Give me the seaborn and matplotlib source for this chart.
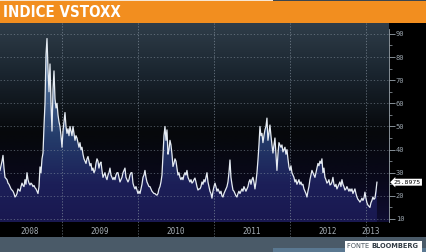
import numpy as np
import pandas as pd
import matplotlib
matplotlib.use("Agg")
import matplotlib.pyplot as plt
import matplotlib.dates as mdates
from matplotlib.colors import LinearSegmentedColormap
from matplotlib.patches import Rectangle
import seaborn as sns

# ---------------- data (VSTOXX) ----------------
title = "INDICE VSTOXX"
source_a = "FONTE "
source_b = "BLOOMBERG"
start_date = "2008-03-08"
end_date = "2013-02-22"
view_end = "2013-04-21"
last_label = "25.8975"
year_labels = ["2008", "2009", "2010", "2011", "2012", "2013"]
year_label_dates = ["2008-07-30", "2009-07-02", "2010-07-02", "2011-07-02", "2012-07-02", "2013-01-25"]
year_bounds = ["2009-01-01", "2010-01-01", "2011-01-01", "2012-01-01", "2013-01-01"]
y_ticks = [10, 20, 30, 40, 50, 60, 70, 80, 90]

values = [
    31, 33, 35, 37.5, 32, 28, 27.5, 27, 25.5, 25, 24, 23, 22.5, 22, 21, 19.5, 20, 21, 23, 22.5,
    22, 24, 25.5, 24.5, 24, 27, 25, 30, 27, 25.5, 24.7, 25.5, 25, 24, 24.5, 23.5, 23, 22, 21, 24,
    32.5, 30, 36, 38.5, 50, 60, 81, 88, 75, 65, 77, 60, 48, 66, 74, 62, 58, 60, 55, 52,
    50, 46, 41, 48, 52, 56, 50, 47, 49, 46, 50, 48, 46, 50, 47, 44, 46, 45, 43, 41,
    43, 40, 41, 38, 36, 35, 34, 36, 37, 35, 33, 34, 31, 32, 30, 31, 34, 36, 35, 32,
    34, 34.6, 31, 28, 29, 30, 28, 27, 29, 30, 32, 29, 28, 27, 28, 27, 29, 30, 30, 28,
    26, 27, 28, 30, 31, 32, 28, 27, 26, 27, 29, 30, 30, 25.5, 24, 23, 24, 22.5, 21, 22,
    21, 23, 25, 28, 29, 31, 28, 26, 25, 24, 24, 23, 22, 21.5, 21, 21, 20.5, 20.3, 21, 23,
    24, 26, 29, 38, 46, 50, 44, 48.5, 38, 40, 44, 42, 38, 32.7, 34, 36, 35, 32, 29, 30,
    28, 27, 28, 27, 29, 30, 29, 31, 28, 27, 26, 27, 25.5, 26, 27, 27.7, 26, 24, 22.5, 23,
    23, 24, 26, 25, 27, 26, 28, 30, 26, 24, 22, 21, 19, 22, 24, 25.5, 24, 22, 23, 22,
    21, 22, 20, 19.5, 21, 22, 23, 24, 26, 30, 35.5, 28, 25, 22.5, 22, 21, 20, 19.5, 21, 22,
    21, 22, 23, 22, 24, 23, 22, 23, 24, 26, 27, 25, 27, 28, 26, 23, 26, 30, 35.5, 42,
    50, 46, 47, 43, 46, 48.5, 50, 53.6, 44, 47, 50.6, 46, 42, 38.5, 42, 45, 38, 31, 38, 43,
    42, 41, 42, 39, 40, 41, 38, 40, 36, 32.5, 31, 33, 30, 29, 28, 26, 27, 25, 26, 27,
    25, 26, 24.7, 25, 23, 22, 21, 19.5, 22, 24, 27, 29, 31, 30, 29, 28, 30, 32, 34, 33,
    35, 34, 36, 30, 32, 28, 27, 25.5, 26, 27, 24.7, 25, 26, 28, 25, 24, 25, 23, 24, 25,
    26, 24, 27, 25, 24, 22.5, 23, 24, 23, 22, 23, 22, 23, 21, 22, 23, 21, 19.5, 18.5, 18,
    17.3, 18, 19, 18, 19, 21.6, 19, 17, 16, 15.5, 15, 17, 18, 19.5, 18.5, 19, 22, 25.9,
]

dates = pd.date_range(start_date, end_date, periods=len(values))
df = pd.DataFrame({"date": dates, "value": values})

# ---------------- figure ----------------
W, H = 427, 252
fig = plt.figure(figsize=(W / 100, H / 100), dpi=100, facecolor="black")

def fx(px):
    return px / W

def fy(py):
    return 1 - py / H

ax_left, ax_right = 0, 389
ax_top, ax_bot = 23, 222
rect = [fx(ax_left), fy(ax_bot), fx(ax_right - ax_left), (ax_bot - ax_top) / H]

# background gradient axes
bg = fig.add_axes(rect, zorder=0)
bg_cmap = LinearSegmentedColormap.from_list(
    "bg", [(0, "#0f0d32"), (0.2, "#09081b"), (0.45, "#06080b"), (0.75, "#1a252f"), (1, "#2f3d49")])
bg.imshow(np.linspace(0, 1, 256).reshape(-1, 1), aspect="auto", cmap=bg_cmap,
          origin="lower", extent=[0, 1, 0, 1])
bg.set_axis_off()

ax = fig.add_axes(rect, zorder=1)
ax.set_facecolor("none")

ymin, ymax = 8.7, 94.7
x0 = mdates.date2num(pd.Timestamp(start_date))
x1 = mdates.date2num(pd.Timestamp(view_end))

# gradient fill under the curve
poly = ax.fill_between(mdates.date2num(df["date"]), df["value"], ymin, color="none", lw=0)
fill_cmap = LinearSegmentedColormap.from_list(
    "fill", [(0, "#191850"), (0.2, "#1c1f58"), (0.45, "#243c6a"), (0.75, "#4a6a94"), (1, "#6d8cb2")])
img = ax.imshow(np.linspace(0, 1, 256).reshape(-1, 1), aspect="auto", cmap=fill_cmap,
                origin="lower", extent=[x0, x1, ymin, 90], zorder=2)
img.set_clip_path(poly.get_paths()[0], transform=ax.transData)

sns.lineplot(data=df, x="date", y="value", ax=ax, color="#e6ecf3", lw=0.9, zorder=4)

# grid lines
for v in y_ticks:
    ax.axhline(v, color="#8c99a6", lw=0.6, ls=(0, (1.5, 2.5)), alpha=0.6, zorder=3)
for d in year_bounds:
    ax.axvline(pd.Timestamp(d), ymin=-0.075, ymax=1, color="#8c99a6", lw=0.6,
               ls=(0, (1.5, 2.0)), alpha=0.7, zorder=3, clip_on=False)

ax.set_xlim(pd.Timestamp(start_date), pd.Timestamp(view_end))
ax.set_ylim(ymin, ymax)
ax.set_xlabel("")
ax.set_ylabel("")

# axes styling
for s in ["top", "left", "bottom"]:
    ax.spines[s].set_visible(False)
ax.spines["right"].set_color("#9aa4ad")
ax.spines["right"].set_linewidth(0.6)
ax.spines["right"].set_bounds(ymin, 92)
ax.yaxis.tick_right()
ax.set_yticks(y_ticks)
ax.set_yticklabels([str(t) for t in y_ticks])
ax.set_yticks([v + 5 for v in y_ticks[:-1]], minor=True)
ax.tick_params(axis="y", which="major", direction="out", length=4, width=0.6,
               color="#9aa4ad", labelcolor="#9aa4ad", labelsize=5, pad=1)
ax.tick_params(axis="y", which="minor", direction="out", length=2, width=0.5, color="#9aa4ad")
for lab in ax.get_yticklabels():
    lab.set_fontfamily("DejaVu Sans Mono")

ax.set_xticks([pd.Timestamp(d) for d in year_label_dates])
ax.set_xticklabels(year_labels)
ax.tick_params(axis="x", length=0, labelcolor="#a3abb3", labelsize=5.5, pad=3.5)
for lab in ax.get_xticklabels():
    lab.set_fontfamily("DejaVu Sans Mono")

# last value marker
ax.annotate(last_label, xy=(1, values[-1]), xycoords=("axes fraction", "data"),
            xytext=(3.5, 0), textcoords="offset points", ha="left", va="center",
            fontsize=4.6, color="black", family="DejaVu Sans Mono",
            bbox=dict(boxstyle="larrow,pad=0.15", fc="white", ec="none"), annotation_clip=False)

# ---------------- header / footer ----------------
fig.patches.append(Rectangle((0, fy(23)), 1, 23 / H, transform=fig.transFigure,
                             fc="#f28e1f", ec="none", zorder=5))
fig.patches.append(Rectangle((0, fy(1)), fx(273), 1 / H, transform=fig.transFigure,
                             fc="#f7e6d2", ec="none", zorder=6))
fig.patches.append(Rectangle((fx(273), fy(1)), 1 - fx(273), 1 / H, transform=fig.transFigure,
                             fc="#3b4650", ec="none", zorder=6))
fig.text(fx(3), fy(12.5), title, color="white", fontsize=10.8, fontweight="bold",
         family="DejaVu Sans", fontstretch="condensed", va="center", ha="left", zorder=7)

fig.patches.append(Rectangle((0, 0), 1, 15 / H, transform=fig.transFigure,
                             fc="#4a5a68", ec="none", zorder=5))
fig.patches.append(Rectangle((fx(273), 0), 1 - fx(273), 4 / H, transform=fig.transFigure,
                             fc="#5a7891", ec="none", zorder=5))
fig.patches.append(Rectangle((fx(345), 0), fx(77), 11 / H, transform=fig.transFigure,
                             fc="white", ec="none", zorder=6))

# footer text, fitted into the white box (x 347..420 px)
fs = 6.0
t1 = fig.text(fx(347), fy(246.5), source_a, color="#44505a", fontsize=fs,
              family="DejaVu Sans", fontstretch="condensed", va="center", ha="left", zorder=7)
t2 = fig.text(0, fy(246.5), source_b, color="#333d46", fontsize=fs, fontweight="bold",
              family="DejaVu Sans", fontstretch="condensed", va="center", ha="left", zorder=7)
fig.canvas.draw()
r = fig.canvas.get_renderer()
total = t1.get_window_extent(r).width + t2.get_window_extent(r).width
scale = min(1.0, 72.0 / total)
t1.set_fontsize(fs * scale)
t2.set_fontsize(fs * scale)
fig.canvas.draw()
bb = t1.get_window_extent(r)
t2.set_x(bb.x1 / W)

fig.savefig("out.png", dpi=100, facecolor="black")
